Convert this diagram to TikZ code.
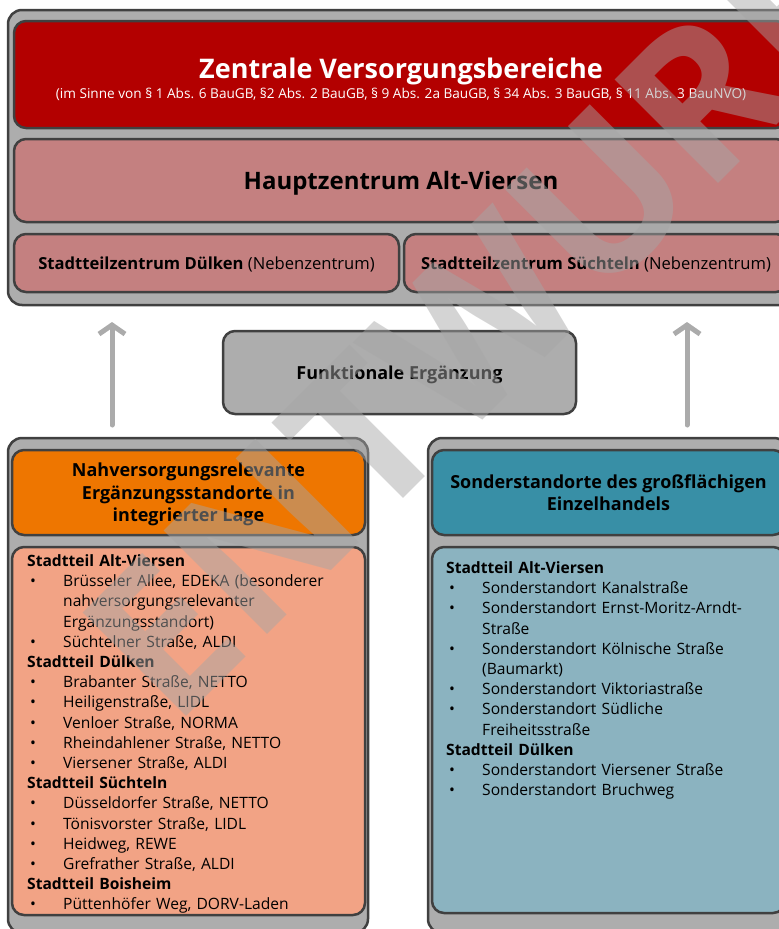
\documentclass[tikz,border=0pt]{standalone}
\usepackage{fontspec}
\setmainfont{Open Sans}
\usetikzlibrary{arrows.meta, positioning}
\definecolor{framegray}{RGB}{64,64,64}
\definecolor{boxgray}{RGB}{173,173,173}
\definecolor{zvbred}{RGB}{179,0,0}
\definecolor{hzpink}{RGB}{196,128,128}
\definecolor{nvorange}{RGB}{238,118,0}
\definecolor{nvsalmon}{RGB}{242,163,133}
\definecolor{soteal}{RGB}{56,143,166}
\definecolor{soblue}{RGB}{139,179,192}
\definecolor{arrowgray}{RGB}{171,171,171}
\definecolor{wmgray}{RGB}{166,166,166}
\newcommand{\listfont}{\fontsize{15.6}{20.2}\selectfont}
\newcommand{\hd}[1]{\par\noindent\textbf{#1}}
\newcommand{\itm}[1]{\par\hangindent=36pt\hangafter=1\noindent\makebox[36pt][l]{\hspace{3pt}\textbullet}#1}

\begin{document}
\begin{tikzpicture}[x=1pt, y=-1pt,
  frame/.style={draw=framegray, line width=2.5pt, rounded corners=14pt, fill=boxgray, inner sep=0pt},
  box/.style={draw=framegray, line width=2.5pt, rounded corners=12pt, inner sep=0pt, align=center, text depth=0pt},
  listtext/.style={anchor=north west, inner sep=0pt, text width=340pt, align=left, font=\listfont},
  up/.style={arrowgray, line width=5pt, line cap=round, -{Straight Barb[length=9pt, width=26pt]}}]
  \useasboundingbox (0,0) rectangle (779,929);
  \clip (0,0) rectangle (779,929);
  % Zentrale Versorgungsbereiche
  \node[frame, minimum width=786pt, minimum height=295pt] (top) at (401,157.5) {};
  \node[box, fill=zvbred, minimum width=774pt, minimum height=107pt] (zvb) at (401,74.5) {};
  \node[anchor=base, text=white, font=\fontsize{27}{32}\selectfont\bfseries] (zvbTitle) at (401,78) {Zentrale Versorgungsbereiche};
  \node[anchor=base, text=white, font=\fontsize{13.6}{16}\selectfont] (zvbSub) at (401,98) {(im Sinne von § 1 Abs. 6 BauGB, §2 Abs. 2 BauGB, § 9 Abs. 2a BauGB, § 34 Abs. 3 BauGB, § 11 Abs. 3 BauNVO)};
  \node[box, fill=hzpink, minimum width=774pt, minimum height=83pt, font=\fontsize{24}{28}\selectfont\bfseries] (hz) at (401,180.5) {Hauptzentrum Alt-Viersen};
  \node[box, fill=hzpink, minimum width=385pt, minimum height=58pt, font=\fontsize{16.6}{20}\selectfont] (stzDuelken) at (206.5,263) {\textbf{Stadtteilzentrum Dülken} (Nebenzentrum)};
  \node[box, fill=hzpink, minimum width=384pt, minimum height=58pt, font=\fontsize{16.6}{20}\selectfont] (stzSuechteln) at (596,263) {\textbf{Stadtteilzentrum Süchteln} (Nebenzentrum)};
  % Funktionale Ergaenzung
  \node[box, fill=boxgray, minimum width=353pt, minimum height=83pt, font=\fontsize{18}{22}\selectfont\bfseries] (funk) at (399.5,372.5) {Funktionale Ergänzung};
  % Nahversorgung
  \node[frame, minimum width=360pt, minimum height=495pt] (nvFrame) at (188,685.5) {};
  \node[box, fill=nvorange, minimum width=353pt, minimum height=85pt, font=\fontsize{18}{22.5}\selectfont\bfseries] (nvHead) at (188.5,492.5) {Nahversorgungsrelevante\\Ergänzungsstandorte in\\integrierter Lage};
  \node[box, fill=nvsalmon, minimum width=353pt, minimum height=368pt] (nvBody) at (188.5,731) {};
  \node[listtext] (nvList) at (27,546) {%
    \hd{Stadtteil Alt-Viersen}
    \itm{Brüsseler Allee, EDEKA (besonderer\newline nahversorgungsrelevanter\newline Ergänzungsstandort)}
    \itm{Süchtelner Straße, ALDI}
    \hd{Stadtteil Dülken}
    \itm{Brabanter Straße, NETTO}
    \itm{Heiligenstraße, LIDL}
    \itm{Venloer Straße, NORMA}
    \itm{Rheindahlener Straße, NETTO}
    \itm{Viersener Straße, ALDI}
    \hd{Stadtteil Süchteln}
    \itm{Düsseldorfer Straße, NETTO}
    \itm{Tönisvorster Straße, LIDL}
    \itm{Heidweg, REWE}
    \itm{Grefrather Straße, ALDI}
    \hd{Stadtteil Boisheim}
    \itm{Püttenhöfer Weg, DORV-Laden}};
  % Sonderstandorte
  \node[frame, minimum width=360pt, minimum height=495pt] (soFrame) at (608,685.5) {};
  \node[box, fill=soteal, minimum width=353pt, minimum height=85pt, font=\fontsize{18}{22.5}\selectfont\bfseries] (soHead) at (608.5,492.5) {Sonderstandorte des großflächigen\\Einzelhandels};
  \node[box, fill=soblue, minimum width=353pt, minimum height=366pt] (soBody) at (608.5,730) {};
  \node[listtext] (soList) at (446,553) {%
    \hd{Stadtteil Alt-Viersen}
    \itm{Sonderstandort Kanalstraße}
    \itm{Sonderstandort Ernst-Moritz-Arndt-\newline Straße}
    \itm{Sonderstandort Kölnische Straße\newline (Baumarkt)}
    \itm{Sonderstandort Viktoriastraße}
    \itm{Sonderstandort Südliche\newline Freiheitsstraße}
    \hd{Stadtteil Dülken}
    \itm{Sonderstandort Viersener Straße}
    \itm{Sonderstandort Bruchweg}};
  % arrows
  \coordinate (arrLfrom) at (112,425);
  \coordinate (arrLto) at (112,322);
  \coordinate (arrRfrom) at (687,425);
  \coordinate (arrRto) at (687,322);
  \draw[up] (arrLfrom) -- (arrLto);
  \draw[up] (arrRfrom) -- (arrRto);
  % watermark
  \node[rotate=45, text=wmgray, text opacity=0.48, font=\fontsize{205}{205}\selectfont\bfseries] (wm) at (476,324) {ENTWURF};
\end{tikzpicture}
\end{document}
